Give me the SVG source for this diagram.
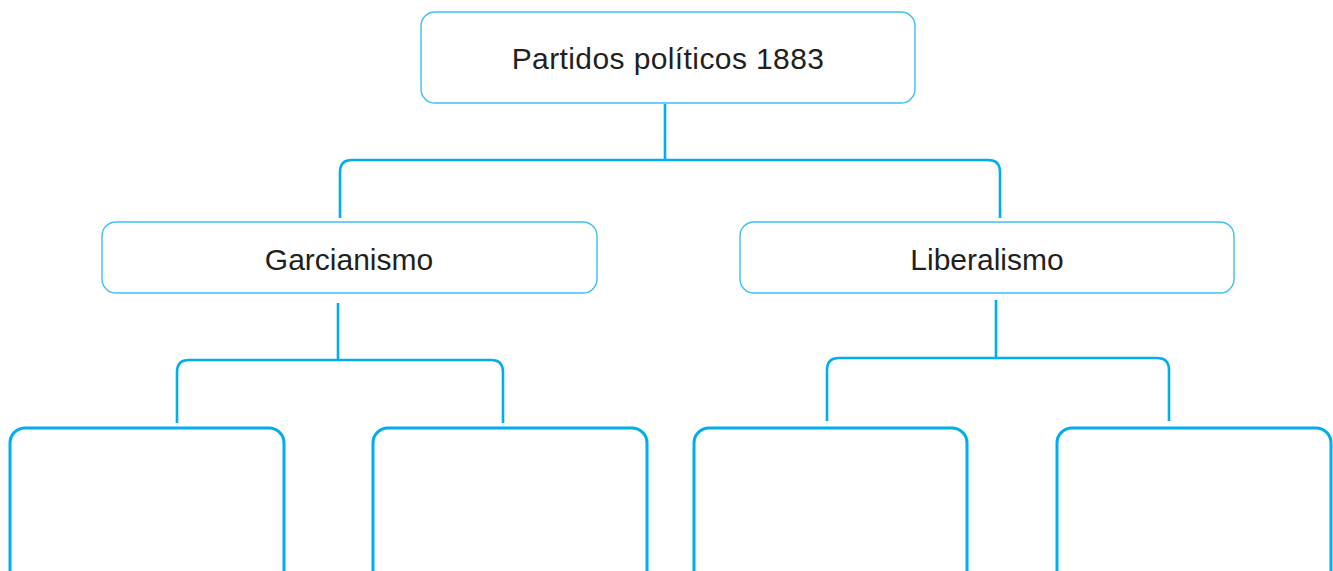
<svg xmlns="http://www.w3.org/2000/svg" width="1333" height="571" viewBox="0 0 1333 571">
<style>
.thin{fill:#fff;stroke:#3cc0f0;stroke-width:1.4}
.thick{fill:#fff;stroke:#00aeef;stroke-width:3}
.conn{fill:none;stroke:#00aeef;stroke-width:2.6}
.lbl{font-family:"Liberation Sans",Arial,sans-serif;font-size:30px;fill:#231f20;text-anchor:middle}
</style>
<rect width="1333" height="571" fill="#fff"/>
<g id="connectors">
<path class="conn" d="M665 104V160M340 218V172Q340 160 352 160H988Q1000 160 1000 172V218"/>
<path class="conn" d="M338 303V360M177 423V372Q177 360 189 360H491Q503 360 503 372V423"/>
<path class="conn" d="M996 300V358M827 421V370Q827 358 839 358H1157Q1169 358 1169 370V421"/>
</g>
<g id="root"><rect class="thin" x="421" y="12" width="494" height="91" rx="14"/><text class="lbl" x="668" y="69" letter-spacing="0.4">Partidos políticos 1883</text></g>
<g id="garcianismo"><rect class="thin" x="102" y="222" width="495" height="71" rx="14"/><text class="lbl" x="349" y="270">Garcianismo</text></g>
<g id="liberalismo"><rect class="thin" x="740" y="222" width="494" height="71" rx="14"/><text class="lbl" x="987" y="270">Liberalismo</text></g>
<g id="box1"><rect class="thick" x="10" y="428" width="274" height="170" rx="15"/></g>
<g id="box2"><rect class="thick" x="373" y="428" width="274" height="170" rx="15"/></g>
<g id="box3"><rect class="thick" x="694" y="428" width="273" height="170" rx="15"/></g>
<g id="box4"><rect class="thick" x="1057" y="428" width="274" height="170" rx="15"/></g>
</svg>
